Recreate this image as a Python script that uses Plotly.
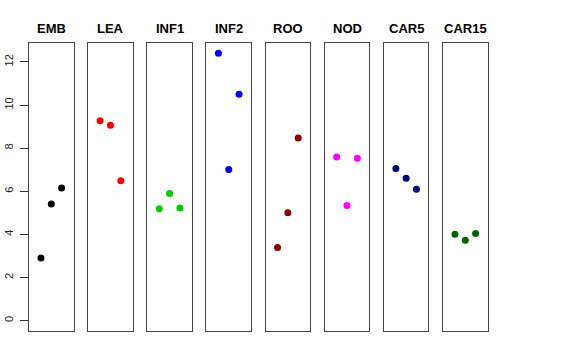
import plotly.graph_objects as go
from plotly.subplots import make_subplots

groups = ["EMB", "LEA", "INF1", "INF2", "ROO", "NOD", "CAR5", "CAR15"]
colors = ["#000000", "#FF0000", "#00CD00", "#0000FF", "#8B0000", "#FF00FF", "#000080", "#006400"]
x_pos = [1, 2, 3]
EMB = [2.91, 5.41, 6.15]
LEA = [9.27, 9.06, 6.49]
INF1 = [5.19, 5.90, 5.23]
INF2 = [12.40, 7.01, 10.50]
ROO = [3.39, 5.00, 8.47]
NOD = [7.59, 5.34, 7.53]
CAR5 = [7.06, 6.61, 6.10]
CAR15 = [4.01, 3.73, 4.04]
values = [EMB, LEA, INF1, INF2, ROO, NOD, CAR5, CAR15]
y_ticks = [0, 2, 4, 6, 8, 10, 12]

W, H = 576, 360
left, right, top, bottom = 29, 488, 43, 331
panel_w = 44.6
step = (443 - 29) / 7

fig = make_subplots(rows=1, cols=8)
for i, (g, c, v) in enumerate(zip(groups, colors, values)):
    fig.add_trace(go.Scatter(x=x_pos, y=v, mode="markers",
                             marker=dict(color=c, size=7), showlegend=False,
                             hoverinfo="skip"), row=1, col=i + 1)
    x0 = (i * step) / (right - left)
    x1 = min((i * step + panel_w) / (right - left), 1)
    xa = "xaxis" if i == 0 else f"xaxis{i+1}"
    ya = "yaxis" if i == 0 else f"yaxis{i+1}"
    fig.layout[xa].update(domain=[x0, x1], range=[-0.16, 4.16], automargin=False,
                          showticklabels=False, ticks="", showgrid=False,
                          zeroline=False, showline=True, mirror=True,
                          linecolor="#444444", linewidth=1)
    fig.layout[ya].update(range=[-0.48, 12.88], showgrid=False, zeroline=False,
                          automargin=False,
                          showline=True, mirror=True, linecolor="#444444",
                          linewidth=1, showticklabels=(i == 0),
                          ticks="outside" if i == 0 else "", ticklen=8,
                          tickvals=y_ticks if i == 0 else None,
                          tickangle=-90, tickcolor="#333333",
                          ticklabelstandoff=3,
                          tickfont=dict(family="Liberation Sans, Arial", size=11, color="#222222"))
    fig.add_annotation(text=f"<b>{g}</b>", x=(x0 + x1) / 2, y=1, xref="paper",
                       yref="paper", xanchor="center", yanchor="bottom", yshift=5,
                       showarrow=False,
                       font=dict(family="Liberation Sans, Arial", size=13, color="black"))

fig.update_layout(width=W, height=H, paper_bgcolor="white", plot_bgcolor="white",
                  template="none",
                  margin=dict(l=left, r=W - right, t=top, b=H - bottom, pad=0, autoexpand=False))
fig.write_html("out.html", config={"displayModeBar": False},
               post_script="document.body.style.margin='0';document.body.style.padding='0';")
